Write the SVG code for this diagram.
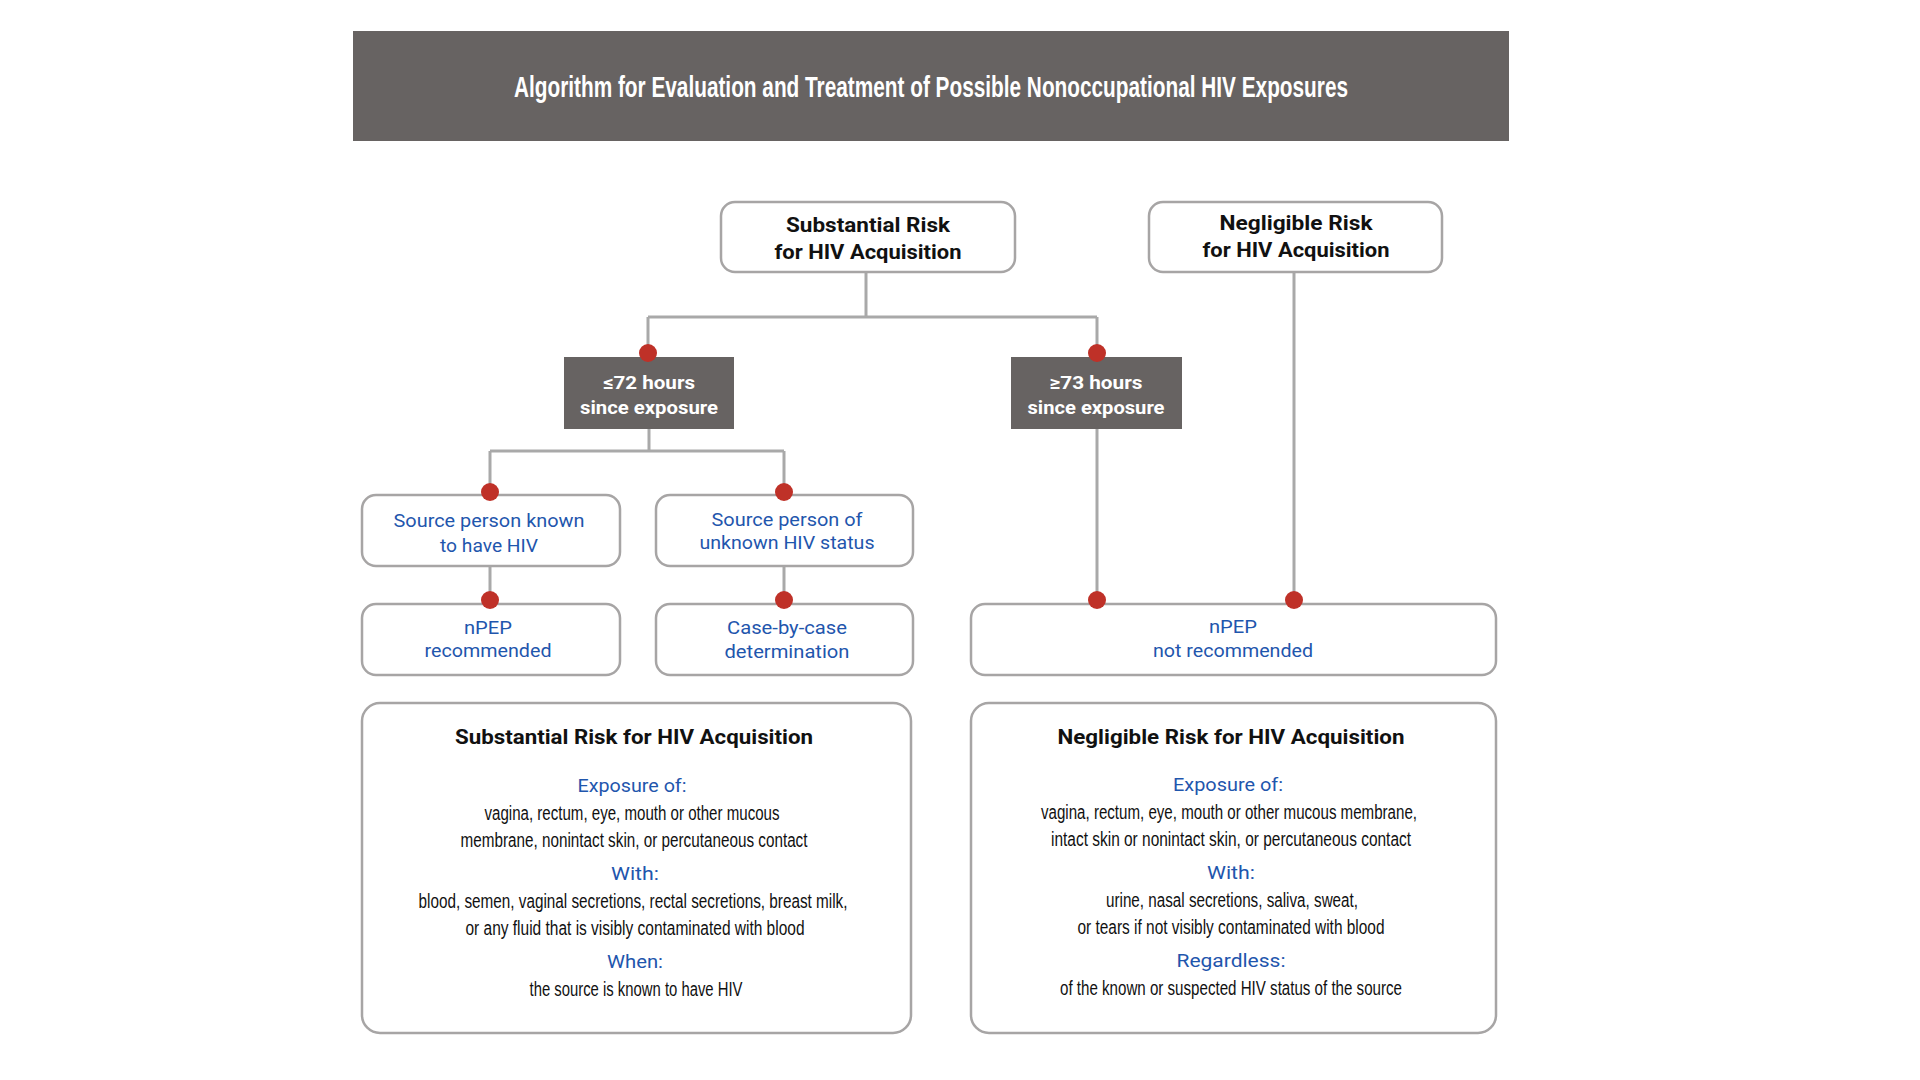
<svg xmlns="http://www.w3.org/2000/svg" width="1920" height="1080" viewBox="0 0 1920 1080">
<style>
.box{fill:#ffffff;stroke:#a7a5a5;stroke-width:2.5}
.dark{fill:#676362}
.conn{fill:none;stroke:#a9a9a9;stroke-width:3}
.dot{fill:#bf3128}
text{text-anchor:middle;font-family:"Roboto","Liberation Sans",sans-serif}
.hdr{font-family:"Liberation Sans Narrow","Liberation Sans",sans-serif;font-weight:bold;font-size:30px;fill:#ffffff}
.nb{font-weight:bold;font-size:21px;fill:#111111}
.wb{font-weight:bold;font-size:19px;fill:#ffffff}
.bl{font-size:18px;fill:#1f56ad}
.tt{font-weight:bold;font-size:20px;fill:#111111}
.bd{font-family:"Liberation Sans Narrow","Liberation Sans",sans-serif;font-size:20px;fill:#111111}
</style>
<rect width="1920" height="1080" fill="#ffffff"/>
<g id="header">
<rect class="dark" x="353" y="31" width="1156" height="110"/>
<text class="hdr" x="931" y="97" textLength="834" lengthAdjust="spacingAndGlyphs">Algorithm for Evaluation and Treatment of Possible Nonoccupational HIV Exposures</text>
</g>
<g id="connectors">
<path class="conn" d="M866 272V317M648 317H1097M648 317V353M1097 317V353"/>
<path class="conn" d="M649 429V451M490 451H784M490 451V492M784 451V492"/>
<path class="conn" d="M490 566V600M784 566V600"/>
<path class="conn" d="M1097 429V600M1294 272V600"/>
</g>
<g id="substantial-risk">
<rect class="box" x="721" y="202" width="294" height="70" rx="14"/>
<text class="nb" x="868" y="232" textLength="164" lengthAdjust="spacingAndGlyphs">Substantial Risk</text>
<text class="nb" x="868" y="259" textLength="187" lengthAdjust="spacingAndGlyphs">for HIV Acquisition</text>
</g>
<g id="negligible-risk">
<rect class="box" x="1149" y="202" width="293" height="70" rx="14"/>
<text class="nb" x="1296" y="230" textLength="153" lengthAdjust="spacingAndGlyphs">Negligible Risk</text>
<text class="nb" x="1296" y="257" textLength="187" lengthAdjust="spacingAndGlyphs">for HIV Acquisition</text>
</g>
<g id="le72">
<rect class="dark" x="564" y="357" width="170" height="72"/>
<text class="wb" x="649" y="389" textLength="92" lengthAdjust="spacingAndGlyphs">≤72 hours</text>
<text class="wb" x="649" y="414" textLength="138" lengthAdjust="spacingAndGlyphs">since exposure</text>
</g>
<g id="ge73">
<rect class="dark" x="1011" y="357" width="171" height="72"/>
<text class="wb" x="1096" y="389" textLength="93" lengthAdjust="spacingAndGlyphs">≥73 hours</text>
<text class="wb" x="1096" y="414" textLength="137" lengthAdjust="spacingAndGlyphs">since exposure</text>
</g>
<g id="source-known">
<rect class="box" x="362" y="495" width="258" height="71" rx="14"/>
<text class="bl" x="489" y="527" textLength="191" lengthAdjust="spacingAndGlyphs">Source person known</text>
<text class="bl" x="489" y="552" textLength="98" lengthAdjust="spacingAndGlyphs">to have HIV</text>
</g>
<g id="source-unknown">
<rect class="box" x="656" y="495" width="257" height="71" rx="14"/>
<text class="bl" x="787" y="526" textLength="151" lengthAdjust="spacingAndGlyphs">Source person of</text>
<text class="bl" x="787" y="549" textLength="175" lengthAdjust="spacingAndGlyphs">unknown HIV status</text>
</g>
<g id="npep-recommended">
<rect class="box" x="362" y="604" width="258" height="71" rx="14"/>
<text class="bl" x="488" y="634" textLength="48" lengthAdjust="spacingAndGlyphs">nPEP</text>
<text class="bl" x="488" y="657" textLength="127" lengthAdjust="spacingAndGlyphs">recommended</text>
</g>
<g id="case-by-case">
<rect class="box" x="656" y="604" width="257" height="71" rx="14"/>
<text class="bl" x="787" y="634" textLength="120" lengthAdjust="spacingAndGlyphs">Case-by-case</text>
<text class="bl" x="787" y="658" textLength="125" lengthAdjust="spacingAndGlyphs">determination</text>
</g>
<g id="npep-not-recommended">
<rect class="box" x="971" y="604" width="525" height="71" rx="14"/>
<text class="bl" x="1233" y="633" textLength="48" lengthAdjust="spacingAndGlyphs">nPEP</text>
<text class="bl" x="1233" y="657" textLength="160" lengthAdjust="spacingAndGlyphs">not recommended</text>
</g>
<g id="dots">
<circle class="dot" cx="648" cy="353" r="9"/>
<circle class="dot" cx="1097" cy="353" r="9"/>
<circle class="dot" cx="490" cy="492" r="9"/>
<circle class="dot" cx="784" cy="492" r="9"/>
<circle class="dot" cx="490" cy="600" r="9"/>
<circle class="dot" cx="784" cy="600" r="9"/>
<circle class="dot" cx="1097" cy="600" r="9"/>
<circle class="dot" cx="1294" cy="600" r="9"/>
</g>
<g id="substantial-definition">
<rect class="box" x="362" y="703" width="549" height="330" rx="18"/>
<text class="tt" x="634" y="744" textLength="358" lengthAdjust="spacingAndGlyphs">Substantial Risk for HIV Acquisition</text>
<text class="bl" x="632" y="792" textLength="109" lengthAdjust="spacingAndGlyphs">Exposure of:</text>
<text class="bd" x="632" y="820" textLength="295" lengthAdjust="spacingAndGlyphs">vagina, rectum, eye, mouth or other mucous</text>
<text class="bd" x="634" y="847" textLength="347" lengthAdjust="spacingAndGlyphs">membrane, nonintact skin, or percutaneous contact</text>
<text class="bl" x="635" y="880" textLength="48" lengthAdjust="spacingAndGlyphs">With:</text>
<text class="bd" x="633" y="908" textLength="429" lengthAdjust="spacingAndGlyphs">blood, semen, vaginal secretions, rectal secretions, breast milk,</text>
<text class="bd" x="635" y="935" textLength="339" lengthAdjust="spacingAndGlyphs">or any fluid that is visibly contaminated with blood</text>
<text class="bl" x="635" y="968" textLength="56" lengthAdjust="spacingAndGlyphs">When:</text>
<text class="bd" x="636" y="996" textLength="213" lengthAdjust="spacingAndGlyphs">the source is known to have HIV</text>
</g>
<g id="negligible-definition">
<rect class="box" x="971" y="703" width="525" height="330" rx="18"/>
<text class="tt" x="1231" y="744" textLength="347" lengthAdjust="spacingAndGlyphs">Negligible Risk for HIV Acquisition</text>
<text class="bl" x="1228" y="791" textLength="110" lengthAdjust="spacingAndGlyphs">Exposure of:</text>
<text class="bd" x="1229" y="819" textLength="376" lengthAdjust="spacingAndGlyphs">vagina, rectum, eye, mouth or other mucous membrane,</text>
<text class="bd" x="1231" y="846" textLength="360" lengthAdjust="spacingAndGlyphs">intact skin or nonintact skin, or percutaneous contact</text>
<text class="bl" x="1231" y="879" textLength="48" lengthAdjust="spacingAndGlyphs">With:</text>
<text class="bd" x="1232" y="907" textLength="252" lengthAdjust="spacingAndGlyphs">urine, nasal secretions, saliva, sweat,</text>
<text class="bd" x="1231" y="934" textLength="307" lengthAdjust="spacingAndGlyphs">or tears if not visibly contaminated with blood</text>
<text class="bl" x="1231" y="967" textLength="109" lengthAdjust="spacingAndGlyphs">Regardless:</text>
<text class="bd" x="1231" y="995" textLength="342" lengthAdjust="spacingAndGlyphs">of the known or suspected HIV status of the source</text>
</g>
</svg>
